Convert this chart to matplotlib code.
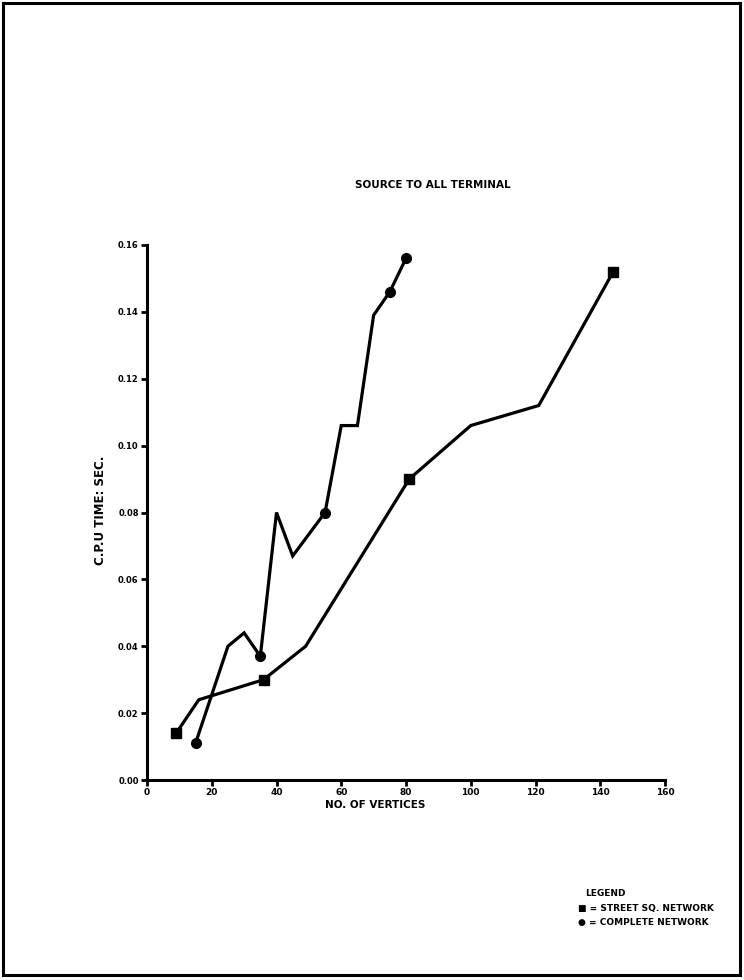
import matplotlib
matplotlib.use('Agg')
import matplotlib.pyplot as plt
from matplotlib.patches import Rectangle

# data
complete_x = [15, 25, 30, 35, 40, 45, 55, 60, 65, 70, 75, 80]
complete_y = [0.011, 0.040, 0.044, 0.037, 0.080, 0.067, 0.080, 0.106, 0.106, 0.139, 0.146, 0.156]
complete_marks = [0, 3, 6, 10, 11]  # points drawn with a marker

street_x = [9, 16, 36, 49, 81, 100, 121, 144]
street_y = [0.014, 0.024, 0.030, 0.040, 0.090, 0.106, 0.112, 0.152]
street_marks = [0, 2, 4, 7]

x_ticks = [0, 20, 40, 60, 80, 100, 120, 140, 160]
y_ticks = [0.00, 0.02, 0.04, 0.06, 0.08, 0.10, 0.12, 0.14, 0.16]

plt.rcParams['font.family'] = ['DejaVu Sans']
plt.rcParams['font.weight'] = 'bold'

fig = plt.figure(figsize=(7.44, 9.8), dpi=100)
ax = fig.add_axes([147 / 744, 1 - 780 / 980, 518 / 744, 535 / 980])

ax.plot(complete_x, complete_y, color='black', lw=2.3, marker='o', ms=7,
        markevery=complete_marks, solid_joinstyle='miter')
ax.plot(street_x, street_y, color='black', lw=2.3, marker='s', ms=6.5,
        markevery=street_marks, solid_joinstyle='miter')

ax.set_xlim(0, 160)
ax.set_ylim(0, 0.16)
ax.set_xticks(x_ticks)
ax.set_xticklabels([str(t) for t in x_ticks], fontsize=6.5, fontweight='heavy')
ax.set_yticks(y_ticks)
ax.set_yticklabels(['%.2f' % t for t in y_ticks], fontsize=6, fontweight='heavy')
ax.tick_params(direction='out', length=4, width=2, pad=2)
for s in ['top', 'right']:
    ax.spines[s].set_visible(False)
for s in ['left', 'bottom']:
    ax.spines[s].set_linewidth(2.2)

# axis titles placed where the scan has them
fig.text(375 / 744, 1 - 805 / 980, 'NO. OF VERTICES', ha='center', va='center',
         fontsize=7.5, fontweight='heavy')
fig.text(100 / 744, 1 - 510 / 980, 'C.P.U TIME: SEC.', ha='center', va='center',
         rotation=90, fontsize=8.5, fontweight='heavy')

fig.text(433 / 744, 1 - 185 / 980, 'SOURCE TO ALL TERMINAL', ha='center', va='center',
         fontsize=7.5, fontweight='heavy')

# legend block at the bottom right
fig.text(605 / 744, 1 - 893 / 980, 'LEGEND', ha='center', va='center', fontsize=6.5, fontweight='heavy')
fig.text(578 / 744, 1 - 908 / 980, '\u25a0 = STREET SQ. NETWORK', ha='left', va='center',
         fontsize=6.5, fontweight='heavy')
fig.text(578 / 744, 1 - 922 / 980, '\u25cf = COMPLETE NETWORK', ha='left', va='center',
         fontsize=6.5, fontweight='heavy')

# page frame
fig.patches.append(Rectangle((3 / 744, 5 / 980), 737 / 744, 972 / 980, transform=fig.transFigure,
                             fill=False, edgecolor='black', lw=2.2))

fig.savefig('out.png', dpi=100)
